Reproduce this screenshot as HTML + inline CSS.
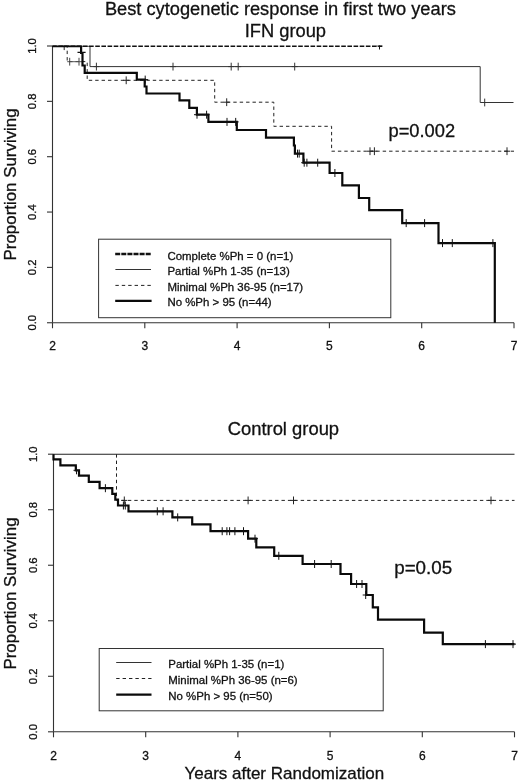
<!DOCTYPE html>
<html><head><meta charset="utf-8"><style>
html,body{margin:0;padding:0;background:#fff;}
body{width:520px;height:780px;overflow:hidden;font-family:"Liberation Sans",sans-serif;}
svg{display:block;will-change:transform;}
text{stroke:#111;stroke-width:0.3px;}
</style></head><body>
<svg width="520" height="780" viewBox="0 0 520 780">
<defs><clipPath id="ct"><rect x="40" y="45.5" width="480" height="290"/></clipPath></defs>
<rect width="520" height="780" fill="#fff"/>
<text x="280.4" y="14.9" font-family="'Liberation Sans', sans-serif" font-size="18.25" text-anchor="middle" fill="#111">Best cytogenetic response in first two years</text>
<text x="285.4" y="37.4" font-family="'Liberation Sans', sans-serif" font-size="18.3" text-anchor="middle" fill="#111">IFN group</text>
<line x1="52.5" y1="46.0" x2="52.5" y2="322.75" stroke="#333" stroke-width="1.1"/>
<line x1="52.5" y1="322.75" x2="514.0" y2="322.75" stroke="#333" stroke-width="1.1"/>
<line x1="47.0" y1="322.75" x2="52.5" y2="322.75" stroke="#333" stroke-width="1.1"/>
<text transform="translate(35.9,322.75) rotate(-90)" font-family="'Liberation Sans', sans-serif" font-size="11.3" text-anchor="middle" fill="#111">0.0</text>
<line x1="47.0" y1="267.40" x2="52.5" y2="267.40" stroke="#333" stroke-width="1.1"/>
<text transform="translate(35.9,267.40) rotate(-90)" font-family="'Liberation Sans', sans-serif" font-size="11.3" text-anchor="middle" fill="#111">0.2</text>
<line x1="47.0" y1="212.05" x2="52.5" y2="212.05" stroke="#333" stroke-width="1.1"/>
<text transform="translate(35.9,212.05) rotate(-90)" font-family="'Liberation Sans', sans-serif" font-size="11.3" text-anchor="middle" fill="#111">0.4</text>
<line x1="47.0" y1="156.70" x2="52.5" y2="156.70" stroke="#333" stroke-width="1.1"/>
<text transform="translate(35.9,156.70) rotate(-90)" font-family="'Liberation Sans', sans-serif" font-size="11.3" text-anchor="middle" fill="#111">0.6</text>
<line x1="47.0" y1="101.35" x2="52.5" y2="101.35" stroke="#333" stroke-width="1.1"/>
<text transform="translate(35.9,101.35) rotate(-90)" font-family="'Liberation Sans', sans-serif" font-size="11.3" text-anchor="middle" fill="#111">0.8</text>
<line x1="47.0" y1="46.00" x2="52.5" y2="46.00" stroke="#333" stroke-width="1.1"/>
<text transform="translate(35.9,46.00) rotate(-90)" font-family="'Liberation Sans', sans-serif" font-size="11.3" text-anchor="middle" fill="#111">1.0</text>
<line x1="52.50" y1="322.75" x2="52.50" y2="328.25" stroke="#333" stroke-width="1.1"/>
<text x="52.50" y="350.3" font-family="'Liberation Sans', sans-serif" font-size="12" text-anchor="middle" fill="#111">2</text>
<line x1="144.80" y1="322.75" x2="144.80" y2="328.25" stroke="#333" stroke-width="1.1"/>
<text x="144.80" y="350.3" font-family="'Liberation Sans', sans-serif" font-size="12" text-anchor="middle" fill="#111">3</text>
<line x1="237.10" y1="322.75" x2="237.10" y2="328.25" stroke="#333" stroke-width="1.1"/>
<text x="237.10" y="350.3" font-family="'Liberation Sans', sans-serif" font-size="12" text-anchor="middle" fill="#111">4</text>
<line x1="329.40" y1="322.75" x2="329.40" y2="328.25" stroke="#333" stroke-width="1.1"/>
<text x="329.40" y="350.3" font-family="'Liberation Sans', sans-serif" font-size="12" text-anchor="middle" fill="#111">5</text>
<line x1="421.70" y1="322.75" x2="421.70" y2="328.25" stroke="#333" stroke-width="1.1"/>
<text x="421.70" y="350.3" font-family="'Liberation Sans', sans-serif" font-size="12" text-anchor="middle" fill="#111">6</text>
<line x1="514.00" y1="322.75" x2="514.00" y2="328.25" stroke="#333" stroke-width="1.1"/>
<text x="514.00" y="350.3" font-family="'Liberation Sans', sans-serif" font-size="12" text-anchor="middle" fill="#111">7</text>
<text transform="translate(15.5,184.4) rotate(-90)" font-family="'Liberation Sans', sans-serif" font-size="16.9" text-anchor="middle" fill="#111">Proportion Surviving</text>
<g clip-path="url(#ct)">
<path d="M52.5,46.2 L90.0,46.2 L90.0,66.6 L480.2,66.6 L480.2,102.5 L513.5,102.5" fill="none" stroke="#333" stroke-width="1"/>
<path d="M96.4,62.7 V70.5 M93.4,66.6 H99.4" stroke="#333" stroke-width="1" fill="none"/><path d="M173.0,62.7 V70.5 M170.0,66.6 H176.0" stroke="#333" stroke-width="1" fill="none"/><path d="M231.2,62.7 V70.5 M228.2,66.6 H234.2" stroke="#333" stroke-width="1" fill="none"/><path d="M238.2,62.7 V70.5 M235.2,66.6 H241.2" stroke="#333" stroke-width="1" fill="none"/><path d="M294.7,62.7 V70.5 M291.7,66.6 H297.7" stroke="#333" stroke-width="1" fill="none"/>
<path d="M484.7,98.6 V106.4 M481.7,102.5 H487.7" stroke="#333" stroke-width="1" fill="none"/>
<path d="M52.5,46.2 L67.2,46.2 L67.2,61.6 L87.2,61.6 L87.2,80.3 L214.7,80.3 L214.7,102.2 L273.8,102.2 L273.8,126.3 L331.6,126.3 L331.6,151.2 L514.0,151.2" fill="none" stroke="#222" stroke-width="1" stroke-dasharray="3.4,3"/>
<path d="M64.2,42.3 V50.1 M61.2,46.2 H67.2" stroke="#222" stroke-width="1" fill="none"/>
<line x1="67.2" y1="61.7" x2="82" y2="61.7" stroke="#555" stroke-width="1"/>
<path d="M69.7,57.8 V65.6 M69.7,61.7 H69.7" stroke="#444" stroke-width="1" fill="none"/><path d="M79.0,57.8 V65.6 M79.0,61.7 H79.0" stroke="#444" stroke-width="1" fill="none"/>
<path d="M126.2,76.4 V84.2 M123.2,80.3 H129.2" stroke="#222" stroke-width="1" fill="none"/>
<path d="M226.7,98.3 V106.1 M223.7,102.2 H229.7" stroke="#222" stroke-width="1" fill="none"/>
<path d="M370.0,147.3 V155.1 M367.0,151.2 H373.0" stroke="#222" stroke-width="1" fill="none"/><path d="M374.4,147.3 V155.1 M371.4,151.2 H377.4" stroke="#222" stroke-width="1" fill="none"/><path d="M507.0,147.3 V155.1 M504.0,151.2 H510.0" stroke="#222" stroke-width="1" fill="none"/>
<line x1="52.5" y1="46.0" x2="382.2" y2="46.0" stroke="#111" stroke-width="2.2" stroke-dasharray="4.6,1.55" stroke-dashoffset="0.3"/>
<path d="M379.5,42.3 V49.5 M376.5,45.9 H382.5" stroke="#111" stroke-width="1" fill="none"/>
<path d="M52.5,46.2 L81.1,46.2 L81.1,53.0 L82.5,53.0 L82.5,65.5 L84.7,65.5 L84.7,72.9 L136.8,72.9 L136.8,79.6 L144.7,79.6 L144.7,86.5 L146.5,86.5 L146.5,93.5 L179.5,93.5 L179.5,100.4 L189.3,100.4 L189.3,107.8 L196.9,107.8 L196.9,114.7 L208.4,114.7 L208.4,121.9 L236.8,121.9 L236.8,130.0 L266.0,130.0 L266.0,137.7 L293.9,137.7 L293.9,145.5 L294.9,145.5 L294.9,153.6 L303.4,153.6 L303.4,162.7 L329.6,162.7 L329.6,173.0 L342.3,173.0 L342.3,185.4 L358.9,185.4 L358.9,198.0 L369.2,198.0 L369.2,210.2 L402.2,210.2 L402.2,223.1 L438.5,223.1 L438.5,243.1 L494.8,243.1 L494.8,322.8" fill="none" stroke="#0a0a0a" stroke-width="2.2" stroke-linejoin="miter"/>
<line x1="77.5" y1="52.4" x2="85.6" y2="52.4" stroke="#111" stroke-width="1.1"/>
<path d="M145.2,75.6 V83.6 M142.2,79.6 H148.2" stroke="#111" stroke-width="1" fill="none"/>
<path d="M197.0,110.7 V118.7 M194.0,114.7 H200.0" stroke="#111" stroke-width="1" fill="none"/><path d="M206.6,110.7 V118.7 M203.6,114.7 H209.6" stroke="#111" stroke-width="1" fill="none"/>
<path d="M227.0,117.9 V125.9 M224.0,121.9 H230.0" stroke="#111" stroke-width="1" fill="none"/><path d="M235.7,117.9 V125.9 M232.7,121.9 H238.7" stroke="#111" stroke-width="1" fill="none"/>
<path d="M297.5,149.6 V157.6 M294.5,153.6 H300.5" stroke="#111" stroke-width="1" fill="none"/><path d="M299.2,149.6 V157.6 M296.2,153.6 H302.2" stroke="#111" stroke-width="1" fill="none"/>
<path d="M304.2,158.7 V166.7 M301.2,162.7 H307.2" stroke="#111" stroke-width="1" fill="none"/><path d="M306.9,158.7 V166.7 M303.9,162.7 H309.9" stroke="#111" stroke-width="1" fill="none"/><path d="M317.7,158.7 V166.7 M314.7,162.7 H320.7" stroke="#111" stroke-width="1" fill="none"/>
<path d="M334.9,169.0 V177.0 M331.9,173.0 H337.9" stroke="#111" stroke-width="1" fill="none"/>
<path d="M406.2,219.1 V227.1 M403.2,223.1 H409.2" stroke="#111" stroke-width="1" fill="none"/><path d="M424.6,219.1 V227.1 M421.6,223.1 H427.6" stroke="#111" stroke-width="1" fill="none"/>
<path d="M442.5,239.1 V247.1 M439.5,243.1 H445.5" stroke="#111" stroke-width="1" fill="none"/><path d="M452.3,239.1 V247.1 M449.3,243.1 H455.3" stroke="#111" stroke-width="1" fill="none"/><path d="M492.9,239.1 V247.1 M489.9,243.1 H495.9" stroke="#111" stroke-width="1" fill="none"/>
</g>
<text x="388.5" y="137.3" font-family="'Liberation Sans', sans-serif" font-size="18.3" fill="#111">p=0.002</text>
<rect x="98.6" y="239.2" width="292.2" height="78.5" fill="none" stroke="#333" stroke-width="1"/>
<line x1="115.2" y1="254" x2="151.6" y2="254" stroke="#111" stroke-width="2.5" stroke-dasharray="5,1.1"/>
<line x1="115.4" y1="269.5" x2="151" y2="269.5" stroke="#333" stroke-width="1"/>
<line x1="115.4" y1="285.4" x2="151" y2="285.4" stroke="#222" stroke-width="1" stroke-dasharray="3.4,3"/>
<line x1="115.2" y1="300.8" x2="151.6" y2="300.8" stroke="#0a0a0a" stroke-width="2.2"/>
<text x="167.4" y="259.6" font-family="'Liberation Sans', sans-serif" font-size="11.45" fill="#111">Complete %Ph = 0 (n=1)</text>
<text x="167.4" y="274.9" font-family="'Liberation Sans', sans-serif" font-size="11.45" fill="#111">Partial %Ph 1-35 (n=13)</text>
<text x="167.4" y="290.8" font-family="'Liberation Sans', sans-serif" font-size="11.45" fill="#111">Minimal %Ph 36-95 (n=17)</text>
<text x="167.4" y="306.3" font-family="'Liberation Sans', sans-serif" font-size="11.45" fill="#111">No %Ph &gt; 95 (n=44)</text>
<text x="283.4" y="435.0" font-family="'Liberation Sans', sans-serif" font-size="18.4" text-anchor="middle" fill="#111">Control group</text>
<line x1="53.5" y1="454.2" x2="53.5" y2="731.8" stroke="#333" stroke-width="1.1"/>
<line x1="53.5" y1="731.8" x2="514.5" y2="731.8" stroke="#333" stroke-width="1.1"/>
<line x1="48.0" y1="731.80" x2="53.5" y2="731.80" stroke="#333" stroke-width="1.1"/>
<text transform="translate(37.3,731.80) rotate(-90)" font-family="'Liberation Sans', sans-serif" font-size="11.3" text-anchor="middle" fill="#111">0.0</text>
<line x1="48.0" y1="676.28" x2="53.5" y2="676.28" stroke="#333" stroke-width="1.1"/>
<text transform="translate(37.3,676.28) rotate(-90)" font-family="'Liberation Sans', sans-serif" font-size="11.3" text-anchor="middle" fill="#111">0.2</text>
<line x1="48.0" y1="620.76" x2="53.5" y2="620.76" stroke="#333" stroke-width="1.1"/>
<text transform="translate(37.3,620.76) rotate(-90)" font-family="'Liberation Sans', sans-serif" font-size="11.3" text-anchor="middle" fill="#111">0.4</text>
<line x1="48.0" y1="565.24" x2="53.5" y2="565.24" stroke="#333" stroke-width="1.1"/>
<text transform="translate(37.3,565.24) rotate(-90)" font-family="'Liberation Sans', sans-serif" font-size="11.3" text-anchor="middle" fill="#111">0.6</text>
<line x1="48.0" y1="509.72" x2="53.5" y2="509.72" stroke="#333" stroke-width="1.1"/>
<text transform="translate(37.3,509.72) rotate(-90)" font-family="'Liberation Sans', sans-serif" font-size="11.3" text-anchor="middle" fill="#111">0.8</text>
<line x1="48.0" y1="454.20" x2="53.5" y2="454.20" stroke="#333" stroke-width="1.1"/>
<text transform="translate(37.3,454.20) rotate(-90)" font-family="'Liberation Sans', sans-serif" font-size="11.3" text-anchor="middle" fill="#111">1.0</text>
<line x1="53.50" y1="731.8" x2="53.50" y2="737.3" stroke="#333" stroke-width="1.1"/>
<text x="53.50" y="759.5" font-family="'Liberation Sans', sans-serif" font-size="12" text-anchor="middle" fill="#111">2</text>
<line x1="145.70" y1="731.8" x2="145.70" y2="737.3" stroke="#333" stroke-width="1.1"/>
<text x="145.70" y="759.5" font-family="'Liberation Sans', sans-serif" font-size="12" text-anchor="middle" fill="#111">3</text>
<line x1="237.90" y1="731.8" x2="237.90" y2="737.3" stroke="#333" stroke-width="1.1"/>
<text x="237.90" y="759.5" font-family="'Liberation Sans', sans-serif" font-size="12" text-anchor="middle" fill="#111">4</text>
<line x1="330.10" y1="731.8" x2="330.10" y2="737.3" stroke="#333" stroke-width="1.1"/>
<text x="330.10" y="759.5" font-family="'Liberation Sans', sans-serif" font-size="12" text-anchor="middle" fill="#111">5</text>
<line x1="422.30" y1="731.8" x2="422.30" y2="737.3" stroke="#333" stroke-width="1.1"/>
<text x="422.30" y="759.5" font-family="'Liberation Sans', sans-serif" font-size="12" text-anchor="middle" fill="#111">6</text>
<line x1="514.50" y1="731.8" x2="514.50" y2="737.3" stroke="#333" stroke-width="1.1"/>
<text x="514.50" y="759.5" font-family="'Liberation Sans', sans-serif" font-size="12" text-anchor="middle" fill="#111">7</text>
<text transform="translate(16,593.5) rotate(-90)" font-family="'Liberation Sans', sans-serif" font-size="16.9" text-anchor="middle" fill="#111">Proportion Surviving</text>
<text x="284.3" y="779.4" font-family="'Liberation Sans', sans-serif" font-size="17" text-anchor="middle" fill="#111">Years after Randomization</text>
<line x1="53.5" y1="454.2" x2="514.5" y2="454.2" stroke="#222" stroke-width="1.1"/>
<path d="M116.5,454.2 L116.5,454.2 L116.5,500.4 L514.5,500.4" fill="none" stroke="#222" stroke-width="1" stroke-dasharray="3.4,3"/>
<path d="M124.3,496.5 V504.3 M121.3,500.4 H127.3" stroke="#222" stroke-width="1" fill="none"/><path d="M248.1,496.5 V504.3 M245.1,500.4 H251.1" stroke="#222" stroke-width="1" fill="none"/><path d="M293.5,496.5 V504.3 M290.5,500.4 H296.5" stroke="#222" stroke-width="1" fill="none"/><path d="M491.0,496.5 V504.3 M488.0,500.4 H494.0" stroke="#222" stroke-width="1" fill="none"/>
<path d="M53.5,454.2 L53.5,459.3 L60.4,459.3 L60.4,465.3 L75.8,465.3 L75.8,470.3 L79.0,470.3 L79.0,475.7 L88.8,475.7 L88.8,481.9 L99.6,481.9 L99.6,488.2 L112.3,488.2 L112.3,493.9 L115.3,493.9 L115.3,499.7 L118.0,499.7 L118.0,505.5 L128.5,505.5 L128.5,511.3 L172.4,511.3 L172.4,517.4 L192.2,517.4 L192.2,524.3 L210.5,524.3 L210.5,531.2 L248.1,531.2 L248.1,538.7 L256.3,538.7 L256.3,547.3 L274.2,547.3 L274.2,555.8 L302.6,555.8 L302.6,564.0 L340.5,564.0 L340.5,574.0 L351.1,574.0 L351.1,584.0 L366.3,584.0 L366.3,595.0 L372.8,595.0 L372.8,607.4 L378.0,607.4 L378.0,619.6 L424.1,619.6 L424.1,632.7 L442.8,632.7 L442.8,644.1 L514.5,644.1" fill="none" stroke="#0a0a0a" stroke-width="2.2"/>
<path d="M76.5,466.3 V474.3 M73.5,470.3 H79.5" stroke="#111" stroke-width="1" fill="none"/>
<path d="M105.4,484.2 V492.2 M102.4,488.2 H108.4" stroke="#111" stroke-width="1" fill="none"/>
<path d="M123.4,501.5 V509.5 M120.4,505.5 H126.4" stroke="#111" stroke-width="1" fill="none"/><path d="M125.3,501.5 V509.5 M122.3,505.5 H128.3" stroke="#111" stroke-width="1" fill="none"/>
<path d="M157.3,507.3 V515.3 M154.3,511.3 H160.3" stroke="#111" stroke-width="1" fill="none"/><path d="M163.1,507.3 V515.3 M160.1,511.3 H166.1" stroke="#111" stroke-width="1" fill="none"/>
<path d="M177.7,513.4 V521.4 M174.7,517.4 H180.7" stroke="#111" stroke-width="1" fill="none"/>
<path d="M222.2,527.2 V535.2 M219.2,531.2 H225.2" stroke="#111" stroke-width="1" fill="none"/><path d="M226.9,527.2 V535.2 M223.9,531.2 H229.9" stroke="#111" stroke-width="1" fill="none"/><path d="M229.6,527.2 V535.2 M226.6,531.2 H232.6" stroke="#111" stroke-width="1" fill="none"/><path d="M234.9,527.2 V535.2 M231.9,531.2 H237.9" stroke="#111" stroke-width="1" fill="none"/><path d="M243.5,527.2 V535.2 M240.5,531.2 H246.5" stroke="#111" stroke-width="1" fill="none"/>
<path d="M255.0,534.7 V542.7 M252.0,538.7 H258.0" stroke="#111" stroke-width="1" fill="none"/>
<path d="M278.8,551.8 V559.8 M275.8,555.8 H281.8" stroke="#111" stroke-width="1" fill="none"/>
<path d="M314.6,560.0 V568.0 M311.6,564.0 H317.6" stroke="#111" stroke-width="1" fill="none"/><path d="M331.2,560.0 V568.0 M328.2,564.0 H334.2" stroke="#111" stroke-width="1" fill="none"/>
<path d="M356.6,580.0 V588.0 M353.6,584.0 H359.6" stroke="#111" stroke-width="1" fill="none"/><path d="M362.0,580.0 V588.0 M359.0,584.0 H365.0" stroke="#111" stroke-width="1" fill="none"/>
<path d="M365.7,591.0 V599.0 M362.7,595.0 H368.7" stroke="#111" stroke-width="1" fill="none"/>
<path d="M485.4,640.1 V648.1 M482.4,644.1 H488.4" stroke="#111" stroke-width="1" fill="none"/><path d="M513.0,640.1 V648.1 M510.0,644.1 H516.0" stroke="#111" stroke-width="1" fill="none"/>
<text x="394.2" y="573.8" font-family="'Liberation Sans', sans-serif" font-size="18.8" fill="#111">p=0.05</text>
<rect x="99.2" y="648.5" width="284" height="62.3" fill="none" stroke="#333" stroke-width="1"/>
<line x1="116.2" y1="662.5" x2="151.5" y2="662.5" stroke="#333" stroke-width="1"/>
<line x1="116.2" y1="678.5" x2="151.5" y2="678.5" stroke="#222" stroke-width="1" stroke-dasharray="3.4,3"/>
<line x1="116.2" y1="694.6" x2="151.5" y2="694.6" stroke="#0a0a0a" stroke-width="2.2"/>
<text x="168.3" y="668.1" font-family="'Liberation Sans', sans-serif" font-size="11.45" fill="#111">Partial %Ph 1-35 (n=1)</text>
<text x="168.3" y="684.1" font-family="'Liberation Sans', sans-serif" font-size="11.45" fill="#111">Minimal %Ph 36-95 (n=6)</text>
<text x="168.3" y="700.2" font-family="'Liberation Sans', sans-serif" font-size="11.45" fill="#111">No %Ph &gt; 95 (n=50)</text>
</svg>
</body></html>
